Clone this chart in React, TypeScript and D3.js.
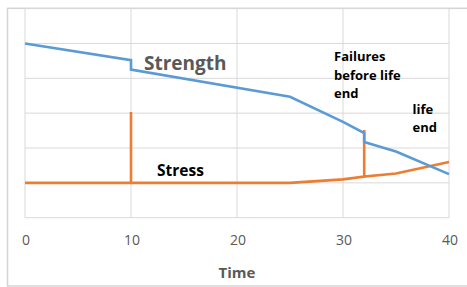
import * as d3 from 'd3';

// time (x) and values
const strengthT = [0, 10, 10, 25, 30, 32, 32, 35, 40];
const strengthV = [5.0, 4.52, 4.25, 3.47, 2.75, 2.43, 2.17, 1.9, 1.25];

const stressT = [0, 10, 10, 10, 25, 30, 32, 32, 32, 35, 40];
const stressV = [1.0, 1.0, 3.03, 1.0, 1.0, 1.1, 1.18, 2.52, 1.18, 1.27, 1.6];

const xTicks = [0, 10, 20, 30, 40];
const yTicks = [0, 1, 2, 3, 4, 5, 6];

const width = 467;
const height = 287;
const marginLeft = 25;
const marginRight = 18;
const marginTop = 8.6;
const plotBottom = 217.7;

const grey = '#595959';
const font = '"Open Sans", sans-serif';

export default function App() {
    const x = d3.scaleLinear([0, 40], [marginLeft, width - marginRight]);
    const y = d3.scaleLinear([0, 6], [plotBottom, marginTop]);

    const line = d3.line<[number, number]>()
        .x((d) => x(d[0]))
        .y((d) => y(d[1]));

    const strength = strengthT.map((t, i) => [t, strengthV[i]] as [number, number]);
    const stress = stressT.map((t, i) => [t, stressV[i]] as [number, number]);

    return (
        <svg width={width} height={height} style={{ position: 'absolute', left: 0, top: 0, background: '#fff' }}>
            <rect x={7.5} y={8.3} width={width} height={277.7} fill="none" stroke="#d4d4d4" strokeWidth={1.5} />
            <g stroke="#d9d9d9" strokeWidth={1}>
                {yTicks.map((v) => (
                    <line key={'h' + v} x1={x(0)} x2={x(40)} y1={y(v)} y2={y(v)} />
                ))}
                {xTicks.map((t) => (
                    <line key={'v' + t} x1={x(t)} x2={x(t)} y1={y(6)} y2={y(0)} />
                ))}
            </g>
            <path d={line(stress) ?? ''} fill="none" stroke="#ed7d31" strokeWidth={2.6} strokeLinejoin="miter" />
            <path d={line(strength) ?? ''} fill="none" stroke="#5b9bd5" strokeWidth={2.6} />
            <g fontFamily={font} fontSize={14} fill={grey} textAnchor="middle">
                {xTicks.map((t) => (
                    <text key={t} x={x(t) + 1} y={245}>{t}</text>
                ))}
            </g>
            <text x={x(20)} y={277.7} fontFamily={font} fontSize={15} fontWeight={700} fill={grey} textAnchor="middle">Time</text>
            <text x={144} y={70} fontFamily={font} fontSize={19} fontWeight={700} fill={grey}>Strength</text>
            <text x={157} y={175.7} fontFamily={font} fontSize={15.5} fontWeight={700} fill="#000">Stress</text>
            <g fontFamily={font} fontSize={13} fontWeight={700} fill="#000">
                <text x={334} y={61}>Failures</text>
                <text x={334} y={79.5}>before life</text>
                <text x={334} y={98}>end</text>
                <text x={412.5} y={113.5}>life</text>
                <text x={412.5} y={132}>end</text>
            </g>
        </svg>
    );
}
